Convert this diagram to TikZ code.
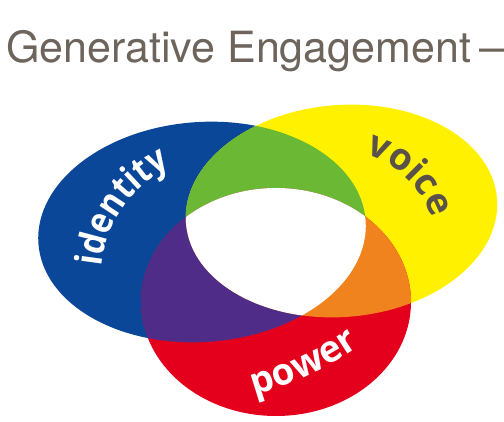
\documentclass[tikz,border=0pt]{standalone}
\usepackage{fontspec}
\usetikzlibrary{decorations.text}
\setmainfont{TeX Gyre Heros}
\newfontfamily\titlefam{TeX Gyre Heros}
\newfontfamily\labelfam{Open Sans}[UprightFont=* Bold]
\newfontfamily\labelnarrow{Open Sans}[UprightFont=* Bold, FakeStretch=0.87]
\newcommand\lblfont{\fontsize{37}{42}\selectfont\labelfam}
\newcommand\lblnarrow{\fontsize{37}{42}\selectfont\labelnarrow}
\definecolor{cblue}{HTML}{0B4799}
\definecolor{cyellow}{HTML}{FFF100}
\definecolor{cred}{HTML}{E4001D}
\definecolor{cgreen}{HTML}{6AB834}
\definecolor{cpurple}{HTML}{4F2C87}
\definecolor{corange}{HTML}{F0831D}
\definecolor{cvoice}{HTML}{5A524A}
\definecolor{ctitle}{HTML}{6D645C}
\newcommand\blueE{(202,232) ellipse [x radius=164, y radius=110, rotate=4]}
\newcommand\yellowE{(341.5,211) ellipse [x radius=156, y radius=106, rotate=4.5]}
\newcommand\redE{(276,302) ellipse [x radius=135, y radius=114]}
\begin{document}
\begin{tikzpicture}[x=1pt,y=-1pt,
  curvedlabel/.style={decorate, decoration={text along path, text align=center, text color=#1}}]
\useasboundingbox (0,0) rectangle (504,422);
\fill[white] (0,0) rectangle (504,422);
% title
\node[anchor=base west, inner sep=0, text=ctitle, font=\titlefam\fontsize{43}{48}\selectfont] (title) at (6,63) {Generative Engagement\hspace{9pt}—};
% base ellipses
\fill[cblue] \blueE;
\fill[cyellow] \yellowE;
\fill[cred] \redE;
% pairwise overlaps
\begin{scope}
  \clip \blueE;
  \fill[cgreen] \yellowE;
\end{scope}
\begin{scope}
  \clip \blueE;
  \fill[cpurple] \redE;
\end{scope}
\begin{scope}
  \clip \yellowE;
  \fill[corange] \redE;
\end{scope}
% triple overlap
\begin{scope}
  \clip \blueE;
  \clip \yellowE;
  \fill[white] \redE;
\end{scope}
% curved labels
\path[curvedlabel=white, decoration={text={|\lblnarrow|identity}}]
  ([shift={(175:123)}]224,278) arc[start angle=175, end angle=255, radius=123];
\path[curvedlabel=cvoice, decoration={text={|\lblfont|voice}}]
  ([shift={(-82:100)}]337,250) arc[start angle=-82, end angle=-10, radius=100];
\path[curvedlabel=white, decoration={text={|\lblfont|power}}]
  ([shift={(82:350)}]161,58) arc[start angle=82, end angle=48, radius=350];
\end{tikzpicture}
\end{document}
